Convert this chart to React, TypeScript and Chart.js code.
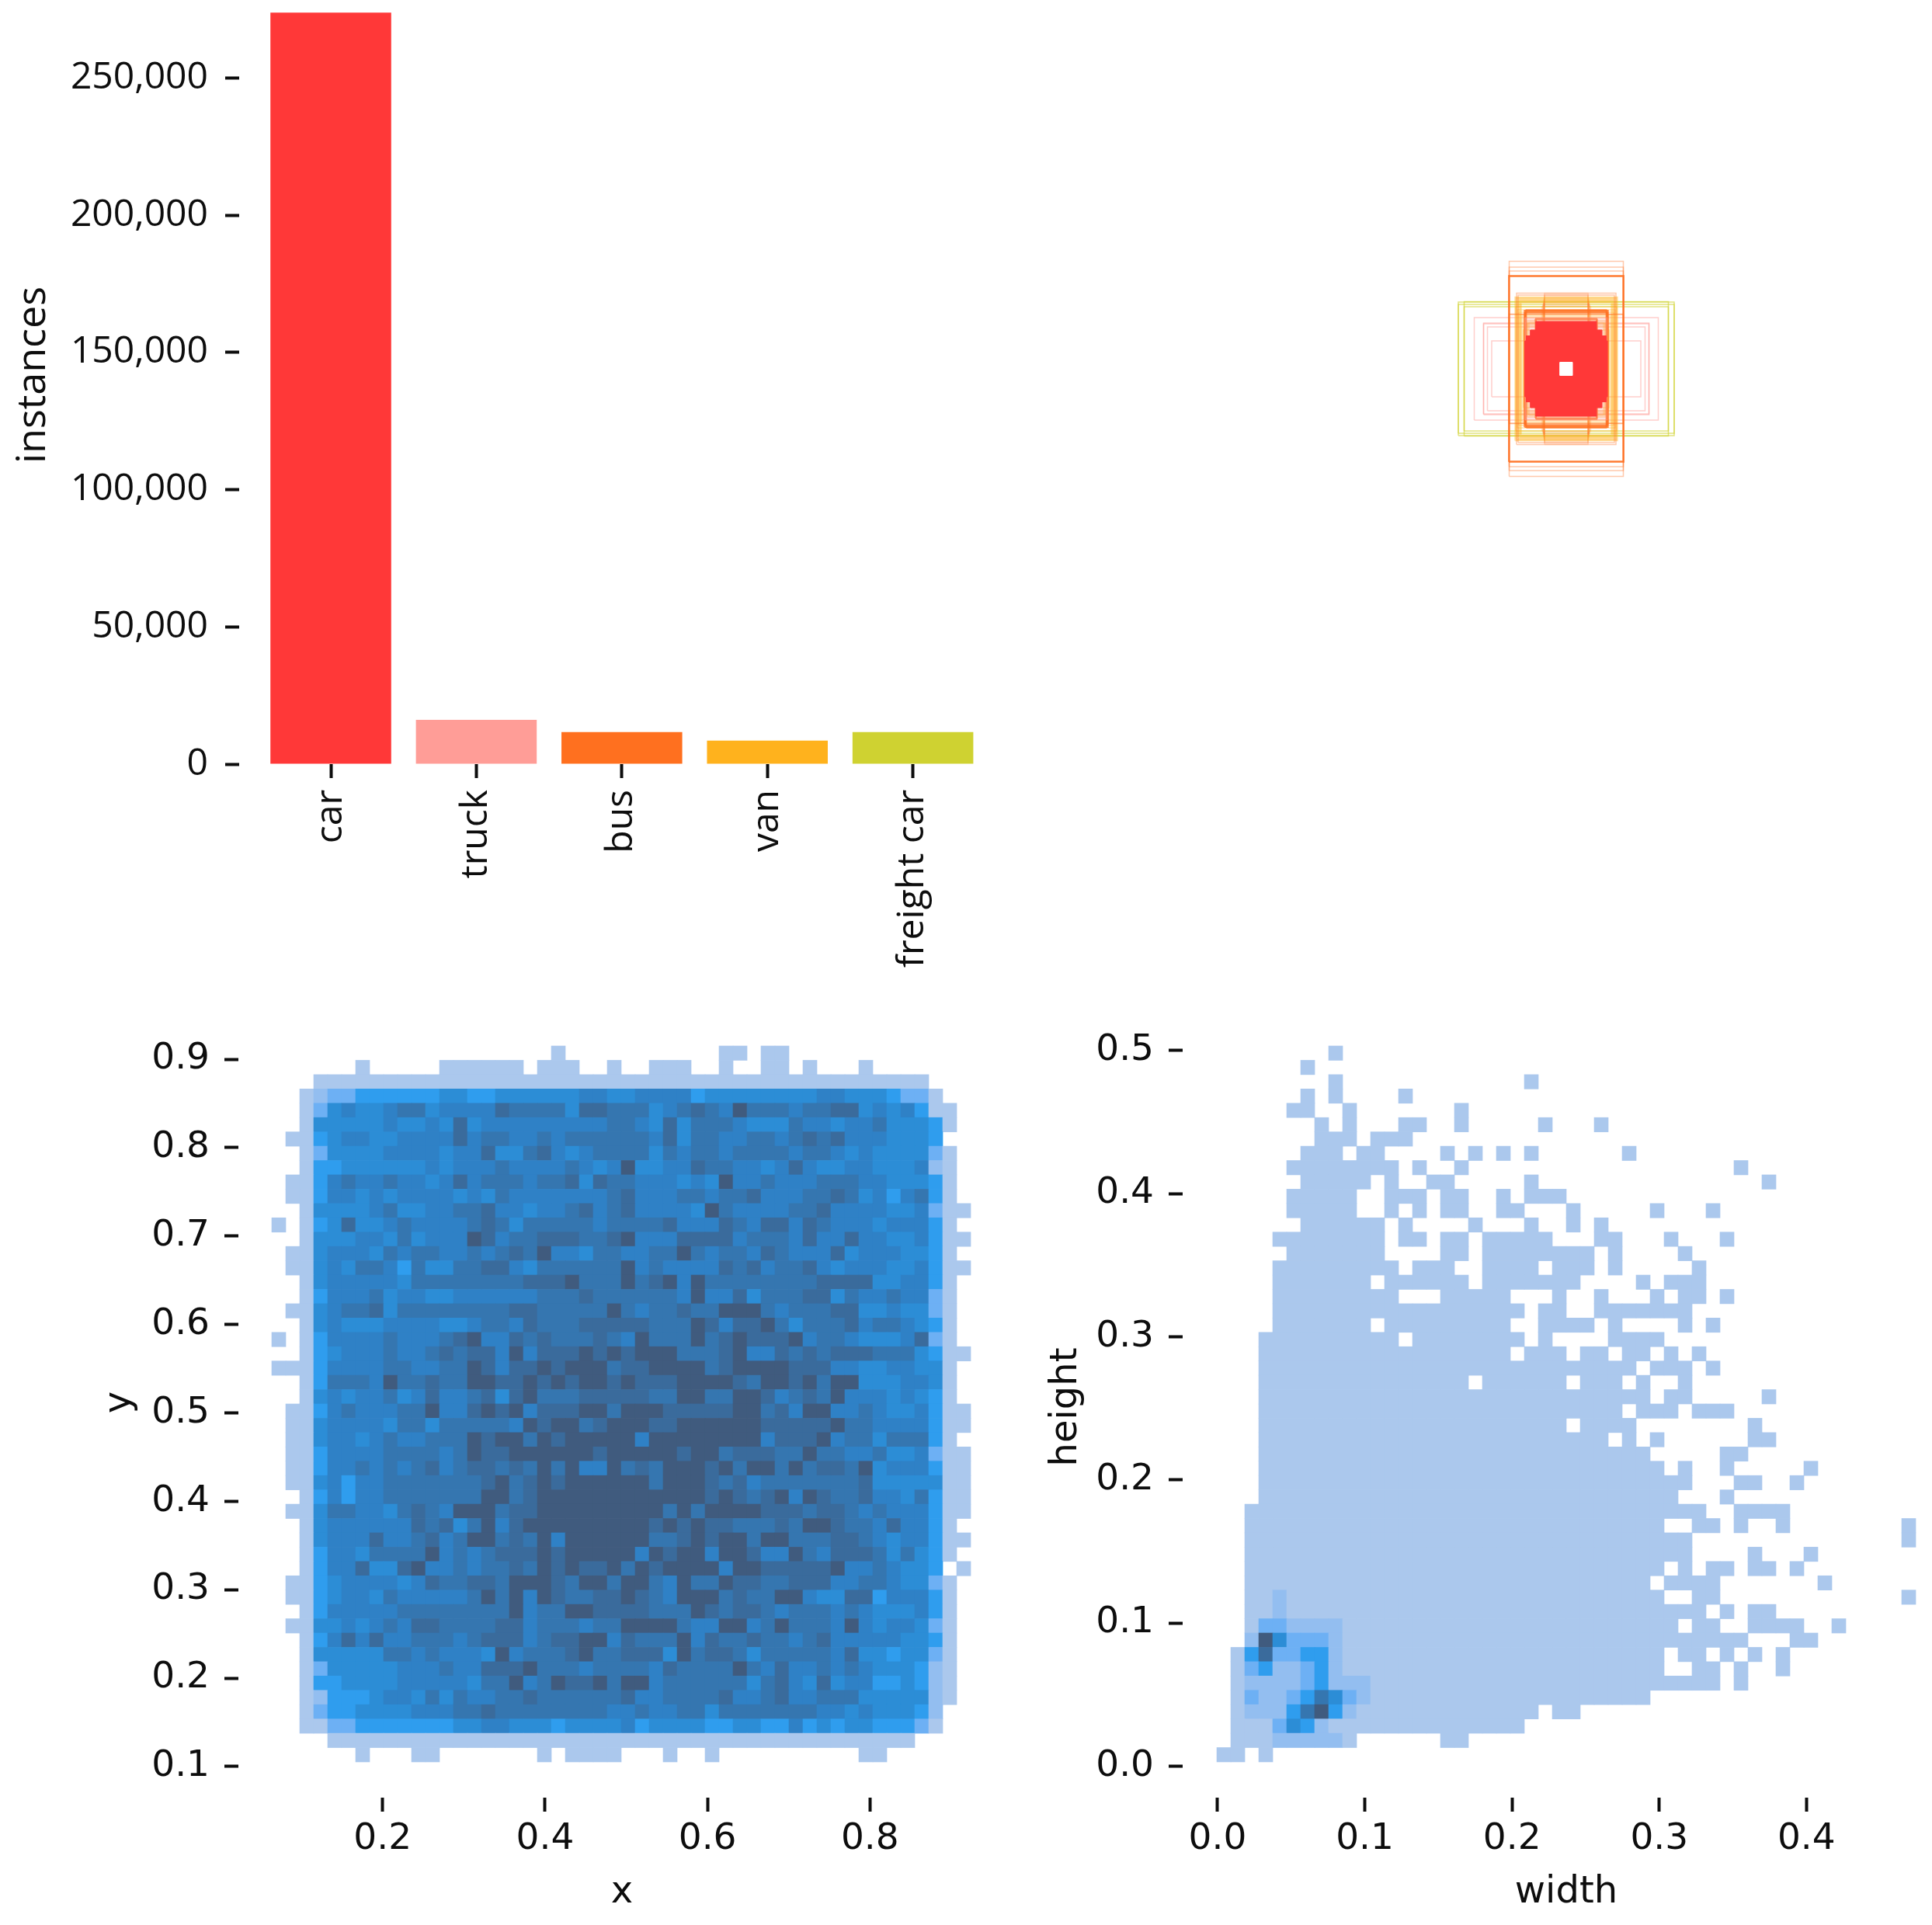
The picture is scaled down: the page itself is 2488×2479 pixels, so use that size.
import React, { useEffect, useRef } from 'react';
import { Chart, registerables } from 'chart.js';

Chart.register(...registerables);

const FONT = '"DejaVu Sans"';
const BAR_FONT = '"Open Sans"';
const TICK_SIZE = 47;
const TITLE_SIZE = 48;
const INK = '#0d0d0d';

// ---- instances per class ----
const classNames = ['car', 'truck', 'bus', 'van', 'freight car'];
const instances = [273800, 16150, 11670, 8530, 11670];
const classColors = ['#FF3838', '#FF9D97', '#FF701F', '#FFB21D', '#CFD231'];
const instanceTicks = [0, 50000, 100000, 150000, 200000, 250000];

// ---- box outlines, centred: [width, height] ----
const freightBoxes = [[278, 166], [263, 173], [278, 172], [263, 160]];
const truckBoxes = [[237, 132], [213, 118], [203, 108], [192, 72], [213, 116]];
const busPaleBoxes = [[147, 277], [147, 262], [147, 252], [147, 140], [147, 141], [128, 195], [124, 190]];
const busBoxes = [
  [147, 239], [147, 238], [148, 240],
  [106, 150], [104, 148], [105, 146], [103, 152], [107, 144], [108, 150], [78, 130], [80, 127], [78, 128],
];
const vanBoxes = [
  [132, 185], [130, 183], [128, 182], [126, 180], [124, 178], [122, 176], [120, 175], [118, 172], [116, 170],
  [130, 160], [126, 152], [122, 146], [118, 140], [114, 136], [110, 132],
  [100, 118], [96, 120], [104, 112], [108, 108], [110, 100], [106, 116], [100, 124],
];
const vanBandBoxes = [
  [56, 195], [56, 192], [56, 189], [56, 186], [57, 183], [57, 180], [58, 177], [58, 174], [59, 171], [59, 168], [60, 165], [61, 162], [63, 160],
];
const carHaloBox = [106, 132];
const carFilled = [[78, 122], [92, 100], [103, 85], [106, 72]];
const centreGap = [16, 17];

// ---- x / y histogram: 50 rows of 50 shade levels, top row first ----
const centreRows = [
  '000 0000000000000000010000 0000000110110000000000 000',
  '000 0001000001111110111001 0011100100110100010000 000',
  '000 1111111111111111111111 1111111111111111111111 000',
  '001 2334444445544555555665 5666645555555566555433 100',
  '001 3565567756666877775887 7756787697776778856564 110',
  '001 5555565565856666666667 7658577765557665667555 410',
  '011 4566556666867766767777 7768577667767878666555 400',
  '001 3555566665668557865677 7757677677776776565555 310',
  '001 4455555565666766667656 9556687766568655665556 210',
  '011 4676676656867776778587 7666565966766677766555 410',
  '011 4665656666565766666667 8666776778666778756467 410',
  '001 5555675566778665667867 8666659766667786666556 311',
  '101 4585567666678757777767 7778666876886876665666 410',
  '001 5556657566698677888778 9666888867776866866556 411',
  '011 5666576776676787966577 6677976776876668566655 410',
  '011 5657764755778865777777 9676666878677865666556 411',
  '001 5666665777777778889777 9789697777777788885566 410',
  '001 4666756655666666777877 7777696685777885766766 310',
  '011 5677857777777788777779 7677877999767778855655 310',
  '001 5655566665567768777888 8877798688975777867765 410',
  '101 4666676667896687877787 6977797898889677655568 310',
  '001 4566676678788696888989 8999777896687878887775 411',
  '111 4666677667798688989997 8899997899998886655665 510',
  '001 4777697787799889898998 9888999987998979955566 510',
  '001 5656675686678589777888 8877997799867879666565 410',
  '011 4676667796689896888997 9998888899786996676556 411',
  '011 5666657757777769899789 9988999999888889776666 411',
  '011 5665676677798997989999 9699999999688896775777 410',
  '011 4666677776798899999989 9999899788877977667556 311',
  '011 4667676786788787979669 7879998979979788795666 411',
  '011 5646677777778978989999 9979998786777777785555 511',
  '001 4646677777779978999999 9999998987896987786657 411',
  '011 5776657876999788999999 9997979999888788767666 411',
  '001 5666666878579689999999 9989898877787998776866 410',
  '001 5666866786799787969999 9977898997997778876566 411',
  '001 4665777796767888989999 9698996998669768887575 410',
  '001 4668558966767787989889 7989999699888889667655 401',
  '011 4566665687788799987997 9976977988778886677655 310',
  '011 4566576666679796987788 9876999787799655884666 410',
  '001 4666667777777796779988 8877798788767776765556 410',
  '011 5565676887777886777677 9999766996797776965665 310',
  '001 4686866777678886788996 8777968778776786666655 410',
  '001 5555577676665967778977 8885978875777776855455 310',
  '001 3555556667668889777677 7768777797686676765554 210',
  '001 4455556666657796798897 9967777775786585664454 210',
  '001 2444566575766778777777 8667777866786677755555 210',
  '001 3445555666778777777776 6766775777777766565554 200',
  '001 1334444444556655545555 6455554455446454554443 100',
  '000 0111111111111111111111 1111111111111111111110 000',
  '000 0001000110000000101111 0001001000000000011000 000',
];

// ---- width / height histogram: occupied columns per row, top row first ----
const sizeRows = [
  '8', '6', '8 22', '6 8 13', '5-6 9 17', '7 9 13-14 17 23 27',
  '7-9 11-13', '6-8 10-11 16 18 20 22 29', '5-12 14 17 37', '6-10 12 15-16 22 39',
  '5-9 12-14 16-17 20 22-24', '5-9 12 14 16-17 20-21 25 31 35', '6-11 13 18 22 25 27',
  '4-11 13-14 16-17 19-23 27-28 32 36', '5-11 16-17 19-26 28 33',
  '4-12 14-16 19-22 24-26 28 34', '4-10 12-17 19-25 30 32-34', '4-12 16-20 24 27 31 33-34 36',
  '4-21 23-24 27-33', '4-10 12-20 23-26 28 33 35', '3-12 14-21 23 28-31', '3-20 22-24 26-27 29-30 32 34',
  '3-29 31-33 35', '3-17 19-24 26-28 30 33', '3-30 32-33 39', '3-28 30-32 34-36', '3-24 26-29 38',
  '3-27 29 31 38-39', '3-30 36-37', '3-31 33 36 42', '3-33 37-38 41', '3-32 36',
  '2-34 37-40', '2-31 34-35 37 40 49', '2-33 49', '2-33 38 42', '2-31 33 35-36 38-39 41',
  '2-30 32-35 43', '2-31 34-35 49', '2-34 36 38-39', '2-32 34-35 38-41 44', '2-37 41-42',
  '1-31 33-34 36 38 40', '1-31 34-35 37 40', '1-35 37', '1-30', '1-22 24-25', '1-21', '1-9 16-17', '0-1 3',
];
// [row, column, shade level] of the dense cluster
const sizeDense = [
  [38, 4, 2], [39, 4, 2], [40, 3, 3], [40, 4, 3], [40, 5, 2], [40, 6, 2], [40, 7, 2], [40, 8, 2],
  [41, 2, 2], [41, 3, 9], [41, 4, 5], [41, 5, 3], [41, 6, 3], [41, 7, 3], [41, 8, 2],
  [42, 2, 4], [42, 3, 8], [42, 4, 3], [42, 5, 3], [42, 6, 4], [42, 7, 4], [42, 8, 2],
  [43, 2, 3], [43, 3, 4], [43, 4, 2], [43, 5, 2], [43, 6, 3], [43, 7, 4], [43, 8, 2],
  [44, 2, 2], [44, 3, 2], [44, 4, 2], [44, 5, 2], [44, 6, 3], [44, 7, 4], [44, 8, 2], [44, 9, 2], [44, 10, 2],
  [45, 2, 3], [45, 3, 2], [45, 4, 2], [45, 5, 3], [45, 6, 4], [45, 7, 7], [45, 8, 5], [45, 9, 3], [45, 10, 2],
  [46, 2, 2], [46, 3, 2], [46, 4, 2], [46, 5, 4], [46, 6, 7], [46, 7, 9], [46, 8, 4], [46, 9, 2],
  [47, 4, 3], [47, 5, 5], [47, 6, 4], [47, 7, 2], [48, 4, 2], [48, 5, 2], [48, 6, 2], [48, 7, 2], [48, 8, 2],
];

// ---- bins and ticks ----
const centreBins = { x0: 0.0636, dx: 0.017208, yTop: 0.91493, dy: 0.016193 };
const sizeBins = { x0: -0.0005, dx: 0.009494, yTop: 0.50325, dy: 0.010005 };
const xTicks = [0.2, 0.4, 0.6, 0.8];
const yTicks = [0.1, 0.2, 0.3, 0.4, 0.5, 0.6, 0.7, 0.8, 0.9];
const widthTicks = [0, 0.1, 0.2, 0.3, 0.4];
const heightTicks = [0, 0.1, 0.2, 0.3, 0.4, 0.5];

const shades = ['', '#ABC8ED', '#93BEF0', '#6DB0F4', '#2F9DEE', '#2C8DD6', '#2F81C6', '#3576B0', '#3A6B9C', '#405B7E'];

function parseCentre() {
  return centreRows.map((r) => r.replace(/ /g, '').split('').map(Number));
}

function parseSize() {
  const m = sizeRows.map((r) => {
    const row = new Array(50).fill(0);
    r.split(' ').forEach((part) => {
      const [a, b] = part.split('-').map(Number);
      for (let c = a; c <= (b ?? a); c++) row[c] = 1;
    });
    return row;
  });
  sizeDense.forEach(([r, c, l]) => { m[r][c] = l; });
  return m;
}

function cells(matrix: number[][], bins: typeof centreBins) {
  const data: any[] = [];
  const colors: string[] = [];
  matrix.forEach((row, r) => row.forEach((lvl, c) => {
    if (!lvl) return;
    const top = bins.yTop - bins.dy * r;
    data.push({ x: bins.x0 + bins.dx * (c + 0.5), y: [top - bins.dy, top] });
    colors.push(shades[lvl]);
  }));
  return { data, colors };
}

const tickGrid = { display: true, drawOnChartArea: false, drawTicks: true, tickLength: 18, tickWidth: 4, tickColor: INK, offset: false };
const noBorder = { display: false };

function axis(opts: any) {
  const { min, max, list, size, horizontal, format, title, titlePad, padding, rotate, family = FONT, tickSize = TICK_SIZE, titleSize = TITLE_SIZE } = opts;
  return {
    type: 'linear', min, max, offset: false,
    position: horizontal ? 'bottom' : 'left',
    grid: tickGrid, border: noBorder,
    afterBuildTicks: (s: any) => { s.ticks = list.map((value: number) => ({ value })); },
    afterFit: (s: any) => {
      if (horizontal) s.height = size; else s.width = size;
      s.paddingTop = 0; s.paddingBottom = 0; s.paddingLeft = 0; s.paddingRight = 0;
    },
    ticks: {
      font: { family, size: tickSize }, color: INK, padding, autoSkip: false, callback: format,
      ...(rotate ? { minRotation: 90, maxRotation: 90 } : { minRotation: 0, maxRotation: 0 }),
    },
    title: title
      ? { display: true, text: title, color: INK, font: { family, size: titleSize }, padding: horizontal ? { top: 0, bottom: titlePad } : { top: titlePad, bottom: 0 } }
      : { display: false },
  };
}

const fixed1 = (v: any) => Number(v).toFixed(1);
const thousands = (v: any) => Number(v).toLocaleString('en-US');

const base = {
  responsive: false,
  animation: false,
  devicePixelRatio: 1,
  events: [],
  plugins: { legend: { display: false }, tooltip: { enabled: false }, title: { display: false } },
};

function barConfig() {
  return {
    type: 'bar',
    data: {
      datasets: [{
        data: instances.map((y, x) => ({ x, y })),
        backgroundColor: classColors, barPercentage: 0.83, categoryPercentage: 1,
      }],
    },
    options: {
      ...base,
      layout: { padding: { top: 10, right: 20, left: 0, bottom: 0 } },
      scales: {
        x: axis({ min: -0.6297, max: 4.557, list: classNames.map((_, i) => i), size: 278, horizontal: true, padding: 15, rotate: true, family: BAR_FONT, tickSize: 48, format: (v: any) => classNames[v] }),
        y: axis({ min: 0, max: 283470, list: instanceTicks, size: 308, padding: 22, family: BAR_FONT, tickSize: 48, titleSize: 52, format: thousands, title: 'instances', titlePad: 12 }),
      },
    },
  };
}

function boxSeries(w: number, h: number, color: string, fill = false, width = 1.5) {
  const a = w / 2, b = h / 2;
  return {
    type: 'line',
    data: [{ x: -a, y: -b }, { x: a, y: -b }, { x: a, y: b }, { x: -a, y: b }, { x: -a, y: -b }],
    borderColor: color, backgroundColor: color, borderWidth: width, pointRadius: 0,
    fill: fill ? 'shape' : false, tension: 0,
  };
}

function boxConfig() {
  // Chart.js paints the first dataset last, so the topmost shapes come first.
  const datasets = [
    boxSeries(centreGap[0], centreGap[1], '#FFFFFF', true, 1),
    ...carFilled.map(([w, h]) => boxSeries(w, h, classColors[0], true, 1)),
    boxSeries(carHaloBox[0], carHaloBox[1], classColors[1] + '50', true, 1),
    ...busBoxes.map(([w, h]) => boxSeries(w, h, classColors[2] + '90', false, 2)),
    ...busPaleBoxes.map(([w, h]) => boxSeries(w, h, classColors[2] + '60', false, 1.5)),
    ...vanBoxes.map(([w, h]) => boxSeries(w, h, classColors[3] + '60')),
    ...vanBandBoxes.map(([w, h]) => boxSeries(w, h, classColors[2] + '30')),
    ...truckBoxes.map(([w, h]) => boxSeries(w, h, classColors[1] + '80')),
    ...freightBoxes.map(([w, h]) => boxSeries(w, h, classColors[4] + 'A0')),
  ];
  return {
    type: 'scatter',
    data: { datasets },
    options: {
      ...base,
      layout: { padding: 0 },
      scales: {
        x: { type: 'linear', display: false, min: -457, max: 457 },
        y: { type: 'linear', display: false, min: -457, max: 457 },
      },
    },
  };
}

function heatConfig(matrix: number[][], bins: typeof centreBins, xa: any, ya: any, padTop: number) {
  const { data, colors } = cells(matrix, bins);
  return {
    type: 'bar',
    data: { datasets: [{ data, backgroundColor: colors, barPercentage: 1, categoryPercentage: 1, borderWidth: 0 }] },
    options: {
      ...base,
      layout: { padding: { top: padTop, right: 5, left: 0, bottom: 0 } },
      scales: { x: axis(xa), y: axis(ya) },
    },
  };
}

function Panel({ box, make }: { box: { left: number; top: number; width: number; height: number }; make: () => any }) {
  const ref = useRef<HTMLCanvasElement>(null);
  useEffect(() => {
    const chart = new Chart(ref.current as HTMLCanvasElement, make());
    return () => chart.destroy();
  }, []);
  return (
    <canvas
      ref={ref}
      width={box.width}
      height={box.height}
      style={{ position: 'absolute', left: box.left, top: box.top, width: box.width, height: box.height }}
    />
  );
}

export default function App() {
  return (
    <div style={{ position: 'absolute', left: 0, top: 0, width: 2488, height: 2479, overflow: 'hidden', background: '#fff' }}>
      <Panel box={{ left: 0, top: -28, width: 1300, height: 1290 }} make={barConfig} />
      <Panel box={{ left: 1560, top: 18, width: 914, height: 914 }} make={boxConfig} />
      <Panel
        box={{ left: 0, top: 1290, width: 1300, height: 1189 }}
        make={() => heatConfig(parseCentre(), centreBins,
          { min: 0.02247, max: 0.967, list: xTicks, size: 164, horizontal: true, padding: 8, format: fixed1, title: 'x', titlePad: 13 },
          { min: 0.06487, max: 0.95884, list: yTicks, size: 307, padding: 19, format: fixed1, title: 'y', titlePad: 126 }, 7)}
      />
      <Panel
        box={{ left: 1290, top: 1300, width: 1226, height: 1179 }}
        make={() => heatConfig(parseSize(), sizeBins,
          { min: -0.02373, max: 0.4974, list: widthTicks, size: 164, horizontal: true, padding: 8, format: fixed1, title: 'width', titlePad: 13 },
          { min: -0.02198, max: 0.52387, list: heightTicks, size: 233, padding: 19, format: fixed1, title: 'height', titlePad: 55 }, 9)}
      />
    </div>
  );
}
